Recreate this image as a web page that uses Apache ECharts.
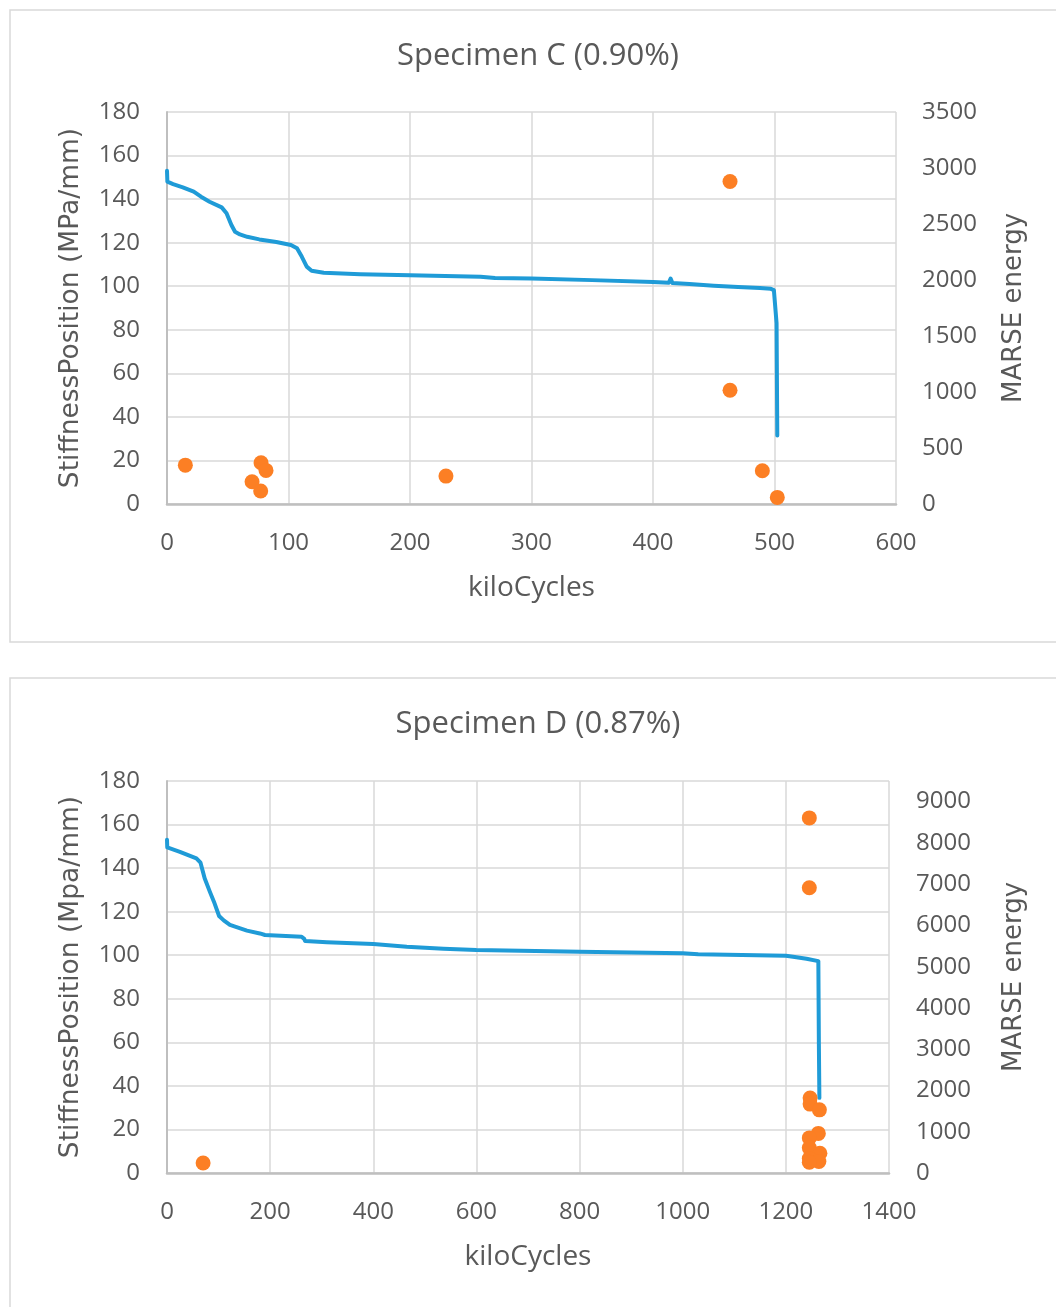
<!DOCTYPE html>
<html>
<head>
<meta charset="utf-8">
<script src="https://cdn.jsdelivr.net/npm/echarts@6/dist/echarts.min.js"></script>
<style>
html,body{margin:0;padding:0;background:#fff;}
#chart{width:1056px;height:1307px;}
</style>
</head>
<body>
<div id="chart"></div>
<script>
// ---- Specimen C ----
const C_TITLE = 'Specimen C (0.90%)';
const C_LINE_X = [0, 0.3, 5, 13, 22, 28, 35, 45, 49, 53, 56, 60, 66, 76, 90, 102, 107, 111, 115, 119, 129, 159, 200, 258, 270, 300, 350, 400, 413, 414.5, 416, 430, 450, 470, 488, 497, 499.5, 501, 501.7, 502.3];
const C_LINE_Y = [153, 148, 146.9, 145.4, 143.4, 141.1, 138.8, 136.2, 133.5, 128.1, 125, 123.8, 122.7, 121.5, 120.3, 118.9, 117.4, 113.5, 109, 107.1, 106.2, 105.5, 105, 104.4, 103.8, 103.6, 102.8, 101.9, 101.6, 103.5, 101.5, 101, 100.2, 99.6, 99.2, 98.8, 98.2, 97.5, 83, 31.5];
const C_AE_X = [15.1, 77.4, 81.5, 70, 77.1, 229.6, 463.4, 463.4, 490, 502.3];
const C_AE_Y = [347, 368, 300, 199, 116, 249, 2879, 1015, 297, 59];
const C_Y_NAME = 'StiffnessPosition (MPa/mm)';

// ---- Specimen D ----
const D_TITLE = 'Specimen D (0.87%)';
const D_LINE_X = [0, 0.5, 25, 57, 65, 73, 83, 91, 101, 110, 122, 155, 180, 190, 261, 266, 268, 310, 400, 465, 536, 600, 800, 1000, 1030, 1200, 1214, 1240, 1263, 1264, 1265];
const D_LINE_Y = [153, 149.5, 147.5, 144.5, 142.5, 135.3, 129.2, 124.6, 118, 116, 113.9, 111.3, 110, 109.3, 108.5, 107.5, 106.5, 106, 105.1, 103.9, 103, 102.4, 101.6, 100.9, 100.4, 99.8, 99.3, 98.4, 97.3, 60, 34.5];
const D_AE_X = [70, 1245.5, 1245.5, 1247, 1247, 1265, 1263, 1245.5, 1245.5, 1266, 1245.5, 1264, 1245.5];
const D_AE_Y = [242, 8606, 6912, 1815, 1670, 1530, 960, 850, 610, 480, 350, 280, 260];
const D_Y_NAME = 'StiffnessPosition (Mpa/mm)';

const X_NAME = 'kiloCycles';
const Y2_NAME = 'MARSE energy';

function zip(xs, ys) { return xs.map((x, i) => [x, ys[i]]); }

const TXT = '#595959';
const GRID = '#d9d9d9';
const AXIS = '#bfbfbf';
const BLUE = '#1f9bd7';
const ORANGE = '#fc7f24';
const TICK_FONT = { color: TXT, fontSize: 24, fontFamily: 'Open Sans', formatter: v => String(v) };

function xAxis(gridIndex, max, interval) {
  return {
    type: 'value', gridIndex, min: 0, max, interval,
    name: X_NAME, nameLocation: 'middle', nameGap: 70,
    nameTextStyle: { color: TXT, fontSize: 28, fontFamily: 'Open Sans' },
    axisLine: { show: true, lineStyle: { color: AXIS, width: 2.5 } },
    axisTick: { show: false },
    axisLabel: Object.assign({ margin: 27 }, TICK_FONT),
    splitLine: { show: true, lineStyle: { color: GRID, width: 1.5 } }
  };
}
function yLeft(gridIndex, name) {
  return {
    type: 'value', gridIndex, position: 'left', min: 0, max: 180, interval: 20,
    name, nameLocation: 'middle', nameGap: 82, nameRotate: 90,
    nameTextStyle: { color: TXT, fontSize: 26.5, fontFamily: 'DejaVu Sans' },
    axisLine: { show: true, lineStyle: { color: AXIS, width: 2 } },
    axisTick: { show: false },
    axisLabel: Object.assign({ margin: 27 }, TICK_FONT),
    splitLine: { show: true, lineStyle: { color: GRID, width: 1.5 } }
  };
}
function yRight(gridIndex, max, interval, gap, margin) {
  return {
    type: 'value', gridIndex, position: 'right', min: 0, max, interval,
    name: Y2_NAME, nameLocation: 'middle', nameGap: gap, nameRotate: 90,
    nameTextStyle: { color: TXT, fontSize: 26, fontFamily: 'DejaVu Sans' },
    axisLine: { show: false }, axisTick: { show: false },
    axisLabel: Object.assign({ margin, showMaxLabel: max % interval === 0 }, TICK_FONT),
    splitLine: { show: false }
  };
}

const chart = echarts.init(document.getElementById('chart'), null, { renderer: 'canvas' });
chart.setOption({
  animation: false,
  backgroundColor: '#fff',
  graphic: [
    { type: 'rect', shape: { x: 10, y: 10, width: 1100, height: 632 }, style: { fill: null, stroke: GRID, lineWidth: 1.5 } },
    { type: 'rect', shape: { x: 10, y: 678, width: 1100, height: 700 }, style: { fill: null, stroke: GRID, lineWidth: 1.5 } },
    { type: 'text', x: 538, y: 56, style: { text: C_TITLE, fill: TXT, font: '31px "Open Sans"', textAlign: 'center', textVerticalAlign: 'middle' } },
    { type: 'text', x: 538, y: 724, style: { text: D_TITLE, fill: TXT, font: '31px "Open Sans"', textAlign: 'center', textVerticalAlign: 'middle' } }
  ],
  grid: [
    { left: 167, top: 112, width: 729, height: 392, containLabel: false },
    { left: 167, top: 781, width: 722, height: 392, containLabel: false }
  ],
  xAxis: [xAxis(0, 600, 100), xAxis(1, 1400, 200)],
  yAxis: [
    yLeft(0, C_Y_NAME),
    yRight(0, 3500, 500, 105, 26),
    yLeft(1, D_Y_NAME),
    yRight(1, 9500, 1000, 112, 27)
  ],
  series: [
    { type: 'line', xAxisIndex: 0, yAxisIndex: 0, data: zip(C_LINE_X, C_LINE_Y), showSymbol: false, symbol: 'none',
      lineStyle: { color: BLUE, width: 4, join: 'round', cap: 'round' }, z: 2 },
    { type: 'scatter', xAxisIndex: 0, yAxisIndex: 1, data: zip(C_AE_X, C_AE_Y), symbolSize: 15,
      itemStyle: { color: ORANGE, opacity: 1 }, z: 3 },
    { type: 'line', xAxisIndex: 1, yAxisIndex: 2, data: zip(D_LINE_X, D_LINE_Y), showSymbol: false, symbol: 'none',
      lineStyle: { color: BLUE, width: 4, join: 'round', cap: 'round' }, z: 2 },
    { type: 'scatter', xAxisIndex: 1, yAxisIndex: 3, data: zip(D_AE_X, D_AE_Y), symbolSize: 15,
      itemStyle: { color: ORANGE, opacity: 1 }, z: 3 }
  ]
});
</script>
</body>
</html>
